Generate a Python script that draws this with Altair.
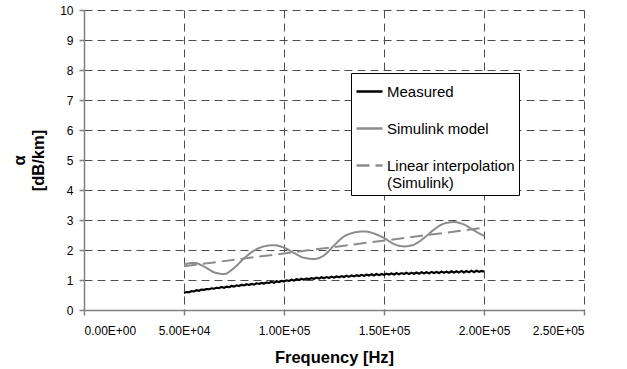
import altair as alt
import pandas as pd

# ---- data ----
freq_measured = list(range(50000, 200001, 1250))
measured = [0.57, 0.60, 0.59, 0.63, 0.62, 0.66, 0.64, 0.68, 0.67, 0.70,
            0.69, 0.72, 0.71, 0.74, 0.73, 0.77, 0.74, 0.78, 0.76, 0.80,
            0.78, 0.82, 0.80, 0.84, 0.82, 0.86, 0.83, 0.87, 0.85, 0.89,
            0.87, 0.90, 0.88, 0.92, 0.90, 0.94, 0.91, 0.96, 0.93, 0.97,
            0.95, 0.99, 0.97, 1.01, 0.98, 1.03, 1.00, 1.04, 1.01, 1.05,
            1.03, 1.06, 1.04, 1.08, 1.05, 1.09, 1.06, 1.10, 1.07, 1.11,
            1.08, 1.12, 1.09, 1.13, 1.10, 1.14, 1.11, 1.15, 1.12, 1.16,
            1.13, 1.17, 1.14, 1.18, 1.15, 1.19, 1.15, 1.20, 1.16, 1.20,
            1.17, 1.21, 1.18, 1.22, 1.18, 1.23, 1.19, 1.23, 1.20, 1.24,
            1.20, 1.24, 1.21, 1.25, 1.21, 1.26, 1.22, 1.26, 1.22, 1.27,
            1.23, 1.27, 1.23, 1.28, 1.24, 1.28, 1.24, 1.29, 1.25, 1.29,
            1.25, 1.30, 1.25, 1.30, 1.26, 1.31, 1.26, 1.31, 1.27, 1.30,
            1.28]

freq_sim = list(range(50000, 200001, 5000))
simulink = [1.52, 1.57, 1.45, 1.26, 1.20, 1.40, 1.72, 1.98, 2.12, 2.16,
            2.08, 1.90, 1.74, 1.70, 1.82, 2.15, 2.45, 2.58, 2.62, 2.55,
            2.40, 2.20, 2.12, 2.18, 2.40, 2.68, 2.88, 2.93, 2.85, 2.65,
            2.47]

freq_lin = [50000, 200000]
linear = [1.46, 2.74]

series_names = ["Measured", "Simulink model", "Linear interpolation (Simulink)"]
series_colors = ["#000000", "#8c8c8c", "#8c8c8c"]
series_dashes = [[1, 0], [1, 0], [13, 6]]

x_ticks = [0, 50000, 100000, 150000, 200000, 250000]
x_tick_labels = ["0.00E+00", "5.00E+04", "1.00E+05", "1.50E+05", "2.00E+05", "2.50E+05"]
y_ticks = [0, 1, 2, 3, 4, 5, 6, 7, 8, 9, 10]

# ---- build tables ----
df_meas = pd.DataFrame({"freq": freq_measured, "alpha": measured,
                        "series": series_names[0]})
rows = []
for f, v in zip(freq_sim, simulink):
    rows.append({"freq": f, "alpha": v, "series": series_names[1]})
for f, v in zip(freq_lin, linear):
    rows.append({"freq": f, "alpha": v, "series": series_names[2]})
df_model = pd.DataFrame(rows)

label_expr = ("[" + ",".join(f"'{l}'" for l in x_tick_labels) + "][indexof(["
              + ",".join(str(t) for t in x_ticks) + "], datum.value)]")

legend_label_expr = ("datum.label == 'Linear interpolation (Simulink)' ? "
                     "['Linear interpolation', '(Simulink)'] : datum.label")

FONT = "Liberation Sans"

x_enc = alt.X("freq:Q",
              scale=alt.Scale(domain=[0, 250000], nice=False, zero=True),
              axis=alt.Axis(values=x_ticks, labelExpr=label_expr,
                            title="Frequency [Hz]", labelPadding=10,
                            titleY=52, titleBaseline="alphabetic"))
y_enc = alt.Y("alpha:Q",
              scale=alt.Scale(domain=[0, 10], nice=False),
              axis=alt.Axis(values=y_ticks, title=["α", "[dB/km]"],
                            labelPadding=6, titleX=-73, titleY=150,
                            titleAngle=270, titleAlign="center",
                            titleBaseline="top", titleLineHeight=19))
color_enc = alt.Color("series:N",
                      scale=alt.Scale(domain=series_names, range=series_colors),
                      legend=alt.Legend(title=None, labelExpr=legend_label_expr))
dash_enc = alt.StrokeDash("series:N",
                          scale=alt.Scale(domain=series_names, range=series_dashes),
                          legend=alt.Legend(title=None, labelExpr=legend_label_expr))

model = alt.Chart(df_model).mark_line(strokeWidth=2, interpolate="monotone").encode(
    x=x_enc, y=y_enc, color=color_enc, strokeDash=dash_enc)
meas = alt.Chart(df_meas).mark_line(strokeWidth=2.2).encode(
    x=x_enc, y=y_enc, color=color_enc, strokeDash=dash_enc)

chart = alt.layer(model, meas).properties(
    width=500, height=300,
    padding={"left": 84, "top": 10, "right": 43, "bottom": 59},
    autosize=alt.AutoSizeParams(type="none"),
).configure_view(
    stroke=None
).configure_axis(
    domainColor="#808080", domainWidth=1.5,
    tickColor="#808080", tickSize=5, tickWidth=1.5,
    grid=True, gridColor="#4d4d4d", gridDash=[8, 5], gridWidth=1,
    labelFont=FONT, labelFontSize=12, labelColor="#000000",
    titleFont=FONT, titleFontSize=16.5, titleFontWeight="bold", titleColor="#000000",
).configure_legend(
    orient="none", legendX=267, legendY=63,
    strokeColor="#000000", fillColor="#ffffff", padding=4,
    labelFont=FONT, labelFontSize=15, labelColor="#000000", labelLimit=400,
    symbolType="stroke", symbolSize=676, symbolStrokeWidth=2.5,
    labelOffset=3, rowPadding=14,
)

chart.save("out.html", embed_options={"renderer": "svg", "actions": False})
